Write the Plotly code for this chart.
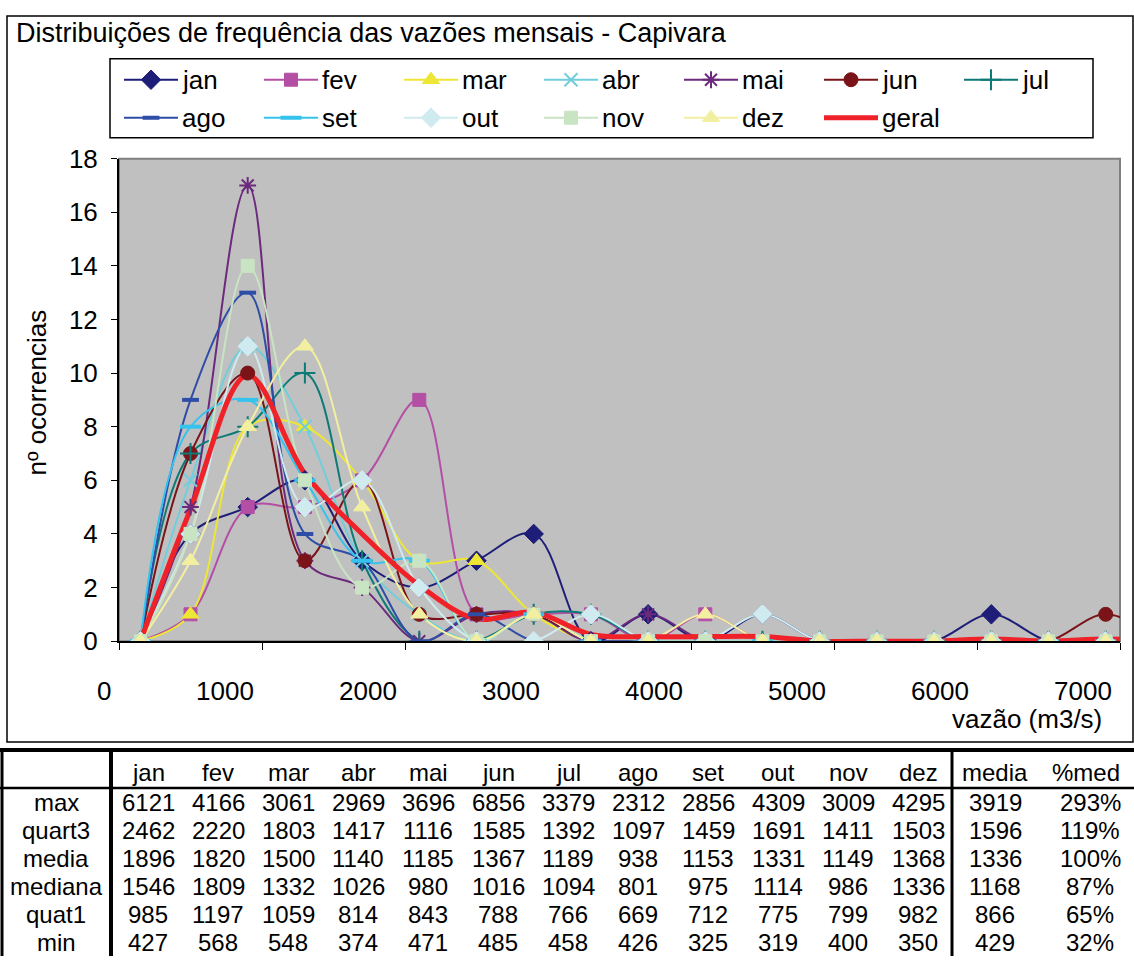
import plotly.graph_objects as go

# ---- frequency distributions (count of months per flow class) ----
vazao = [150, 500, 900, 1300, 1700, 2100, 2500, 2900, 3300, 3700, 4100,
         4500, 4900, 5300, 5700, 6100, 6500, 6900, 7300]

jan = [0, 4, 5, 6, 3, 2, 3, 4, 0, 1, 0, 1, 0, 0, 0, 1, 0, 0, 0]
fev = [0, 1, 5, 5, 6, 9, 1, 1, 1, 0, 1, 0, 0, 0, 0, 0, 0, 0, 0]
mar = [0, 1, 8, 8, 6, 3, 3, 1, 0, 0, 0, 0, 0, 0, 0, 0, 0, 0, 0]
abr = [0, 6, 11, 8, 3, 1, 0, 1, 0, 0, 0, 0, 0, 0, 0, 0, 0, 0, 0]
mai = [0, 5, 17, 3, 2, 0, 1, 1, 0, 1, 0, 0, 0, 0, 0, 0, 0, 0, 0]
jun = [0, 7, 10, 3, 6, 1, 1, 1, 0, 0, 0, 0, 0, 0, 0, 0, 0, 1, 0]
jul = [0, 7, 8, 10, 3, 0, 0, 1, 1, 0, 0, 0, 0, 0, 0, 0, 0, 0, 0]
ago = [0, 9, 13, 4, 3, 0, 1, 0, 0, 0, 0, 0, 0, 0, 0, 0, 0, 0, 0]
set_ = [0, 8, 9, 6, 3, 3, 0, 1, 0, 0, 0, 0, 0, 0, 0, 0, 0, 0, 0]
out = [0, 4, 11, 5, 6, 2, 0, 0, 1, 0, 0, 1, 0, 0, 0, 0, 0, 0, 0]
nov = [0, 4, 14, 6, 2, 3, 0, 1, 0, 0, 0, 0, 0, 0, 0, 0, 0, 0, 0]
dez = [0, 3, 8, 11, 5, 1, 0, 1, 0, 0, 1, 0, 0, 0, 0, 0, 0, 0, 0]
geral = [0, 4.92, 9.92, 6.25, 4.0, 2.08, 0.83, 1.08, 0.25, 0.17, 0.17,
         0.17, 0, 0, 0, 0.08, 0, 0.08, 0]

x_ticks = [0, 1000, 2000, 3000, 4000, 5000, 6000, 7000]

# ---- summary table ----
meses = ["jan", "fev", "mar", "abr", "mai", "jun", "jul", "ago", "set", "out", "nov", "dez"]
linhas = ["max", "quart3", "media", "mediana", "quat1", "min"]
t_max = [6121, 4166, 3061, 2969, 3696, 6856, 3379, 2312, 2856, 4309, 3009, 4295]
t_quart3 = [2462, 2220, 1803, 1417, 1116, 1585, 1392, 1097, 1459, 1691, 1411, 1503]
t_media = [1896, 1820, 1500, 1140, 1185, 1367, 1189, 938, 1153, 1331, 1149, 1368]
t_mediana = [1546, 1809, 1332, 1026, 980, 1016, 1094, 801, 975, 1114, 986, 1336]
t_quat1 = [985, 1197, 1059, 814, 843, 788, 766, 669, 712, 775, 799, 982]
t_min = [427, 568, 548, 374, 471, 485, 458, 426, 325, 319, 400, 350]
col_media = [3919, 1596, 1336, 1168, 866, 429]
col_pct = ["293%", "119%", "100%", "87%", "65%", "32%"]

W, H = 1134, 971
FONT = "Liberation Sans, Arial, sans-serif"
# vertical page placement of the figure in the captured window
Y_OFF, Y_SPAN = 14.2, 942.0


def px(x):
    return x / W


def py(y):
    return 1 - (y - Y_OFF) / Y_SPAN


series = [
    ("jan", jan, "#1E1E78", "diamond", 15, 1),
    ("fev", fev, "#B44FA5", "square", 13, 1),
    ("mar", mar, "#EEE634", "triangle-up", 15, 1),
    ("abr", abr, "#70CEDC", "x-thin-open", 13, 2),
    ("mai", mai, "#6C2A7C", "asterisk-open", 14, 2),
    ("jun", jun, "#7A1418", "circle", 14, 1),
    ("jul", jul, "#0E7A76", "cross-thin-open", 15, 2),
    ("ago", ago, "#2E4DA6", "line-ew-open", 12, 4),
    ("set", set_, "#35C3EE", "line-ew-open", 15, 4),
    ("out", out, "#CFEBF0", "diamond", 15, 1),
    ("nov", nov, "#C9E4C2", "square", 13, 1),
    ("dez", dez, "#F3EFA0", "triangle-up", 15, 1),
]
GERAL_COLOR = "#EE2228"

PLOT_L, PLOT_R, PLOT_T, PLOT_B = 119, 1120, 158, 641
LEG_L, LEG_R, LEG_T, LEG_B = 110, 1093, 58, 137

fig = go.Figure()

# smoothed lines first, then the thick overall curve, then markers on top
for name, ys, color, sym, size, lw in series:
    fig.add_trace(go.Scatter(
        x=vazao, y=ys, mode="lines", name=name, hoverinfo="skip",
        line=dict(color=color, width=2, shape="spline", smoothing=1.0),
    ))
fig.add_trace(go.Scatter(
    x=vazao, y=geral, mode="lines", name="geral",
    line=dict(color=GERAL_COLOR, width=5, shape="spline", smoothing=1.0),
))
for name, ys, color, sym, size, lw in series:
    fig.add_trace(go.Scatter(
        x=vazao, y=ys, mode="markers", name=name,
        marker=dict(symbol=sym, size=size, color=color, line=dict(color=color, width=lw)),
    ))

# legend keys, laid out on a helper subplot measured in pixels
LEG_COL_W, LEG_ROW_Y, KEY_X0, KEY_LEN = 140, [79, 117], 124, 54
annotations = []
legend_items = [(s[0], s[2], s[3], s[4], s[5]) for s in series] + [("geral", GERAL_COLOR, None, 0, 0)]
for i, (name, color, sym, size, lw) in enumerate(legend_items):
    col, row = i % 7, i // 7
    x0 = KEY_X0 + LEG_COL_W * col
    yk = LEG_ROW_Y[row]
    fig.add_trace(go.Scatter(
        x=[x0, x0 + KEY_LEN], y=[yk, yk], xaxis="x2", yaxis="y2", mode="lines",
        line=dict(color=color, width=5 if sym is None else 2), hoverinfo="skip",
    ))
    if sym is not None:
        fig.add_trace(go.Scatter(
            x=[x0 + KEY_LEN / 2], y=[yk], xaxis="x2", yaxis="y2", mode="markers",
            marker=dict(symbol=sym, size=size, color=color, line=dict(color=color, width=lw)),
            hoverinfo="skip",
        ))
    annotations.append(dict(text=name, xref="x2", yref="y2", x=x0 + KEY_LEN + 2, y=yk,
                            xanchor="left", yanchor="middle", showarrow=False,
                            font=dict(size=26, family=FONT, color="black")))

fig.update_layout(
    width=W, height=H,
    margin=dict(l=0, r=0, t=0, b=0),
    paper_bgcolor="white",
    plot_bgcolor="rgba(0,0,0,0)",
    font=dict(family=FONT, color="black", size=26),
    showlegend=False,
    xaxis=dict(
        domain=[px(PLOT_L), px(PLOT_R)], range=[0, 7000],
        tickvals=x_ticks, showticklabels=False, ticks="outside", ticklen=7,
        tickcolor="black", showline=True, linecolor="black", linewidth=2,
        showgrid=False, zeroline=False, fixedrange=True,
    ),
    yaxis=dict(
        domain=[py(PLOT_B), py(PLOT_T)], range=[0, 18], dtick=2,
        ticks="outside", ticklen=6, tickcolor="black", tickfont=dict(size=26),
        showline=True, linecolor="black", linewidth=2,
        showgrid=False, zeroline=False, ticklabelstandoff=8,
    ),
    xaxis2=dict(domain=[px(LEG_L), px(LEG_R)], range=[LEG_L, LEG_R], visible=False,
                anchor="y2", fixedrange=True),
    yaxis2=dict(domain=[py(LEG_B), py(LEG_T)], range=[LEG_B, LEG_T], visible=False,
                anchor="x2", fixedrange=True),
)

shapes = []
# plot area fill and frame
shapes.append(dict(type="rect", xref="paper", yref="paper",
                   x0=px(PLOT_L), x1=px(PLOT_R), y0=py(PLOT_B), y1=py(PLOT_T),
                   fillcolor="#C0C0C0", line=dict(color="#808080", width=2), layer="below"))
# legend frame
shapes.append(dict(type="rect", xref="paper", yref="paper",
                   x0=px(LEG_L), x1=px(LEG_R), y0=py(LEG_B), y1=py(LEG_T),
                   line=dict(color="black", width=1.5), layer="below"))
# chart border
shapes.append(dict(type="rect", xref="paper", yref="paper",
                   x0=px(7), x1=px(1133), y0=py(742), y1=min(py(8), 0.999),
                   line=dict(color="black", width=1.5)))


def note(text, x, y, size=26, xanchor="center", **kw):
    d = dict(text=text, xref="paper", yref="paper", x=x, y=y, showarrow=False,
             xanchor=xanchor, yanchor="middle", font=dict(size=size, family=FONT, color="black"))
    d.update(kw)
    annotations.append(d)


note("Distribuições de frequência das vazões mensais - Capivara", px(14), py(32),
     size=27, xanchor="left")
note("nº ocorrencias", px(37), py(392), size=26, textangle=-90)
note("vazão (m3/s)", px(1104), py(719), size=26, xanchor="right")

# x tick labels sit just left of their tick marks
for v in x_ticks:
    annotations.append(dict(text=str(v), xref="x", yref="paper", x=v, y=py(691),
                            xanchor="right", yanchor="middle", xshift=-6,
                            showarrow=False, font=dict(size=26, family=FONT)))

# ---- table below the chart ----
T_TOP, T_HEAD, LBL_R, MED_L = 750, 788, 111, 952
shapes += [
    dict(type="line", xref="paper", yref="paper", x0=0, x1=1, y0=py(T_TOP), y1=py(T_TOP),
         line=dict(color="black", width=4)),
    dict(type="line", xref="paper", yref="paper", x0=0, x1=1, y0=py(T_HEAD), y1=py(T_HEAD),
         line=dict(color="black", width=2.5)),
    dict(type="line", xref="paper", yref="paper", x0=px(2), x1=px(2), y0=py(T_TOP), y1=0,
         line=dict(color="black", width=3)),
    dict(type="line", xref="paper", yref="paper", x0=px(LBL_R), x1=px(LBL_R), y0=py(T_TOP), y1=0,
         line=dict(color="black", width=4)),
    dict(type="line", xref="paper", yref="paper", x0=px(MED_L), x1=px(MED_L), y0=py(T_TOP), y1=0,
         line=dict(color="black", width=3)),
]

TS = 24
head_y = 773
row_y = [803, 831, 859, 887, 915, 943]
month_x = [148 + 70 * i for i in range(12)]
for m, xm in zip(meses, month_x):
    note(m, px(xm), py(head_y), size=TS)
note("media", px(995), py(head_y), size=TS)
note("%med", px(1086), py(head_y), size=TS)
table_rows = [t_max, t_quart3, t_media, t_mediana, t_quat1, t_min]
for lbl, vals, yr, mv, pv in zip(linhas, table_rows, row_y, col_media, col_pct):
    note(lbl, px(56), py(yr), size=TS)
    for v, xm in zip(vals, month_x):
        note(str(v), px(xm), py(yr), size=TS)
    note(str(mv), px(995), py(yr), size=TS)
    note(pv, px(1090), py(yr), size=TS)

fig.update_layout(shapes=shapes, annotations=annotations)
fig.write_html("out.html")
